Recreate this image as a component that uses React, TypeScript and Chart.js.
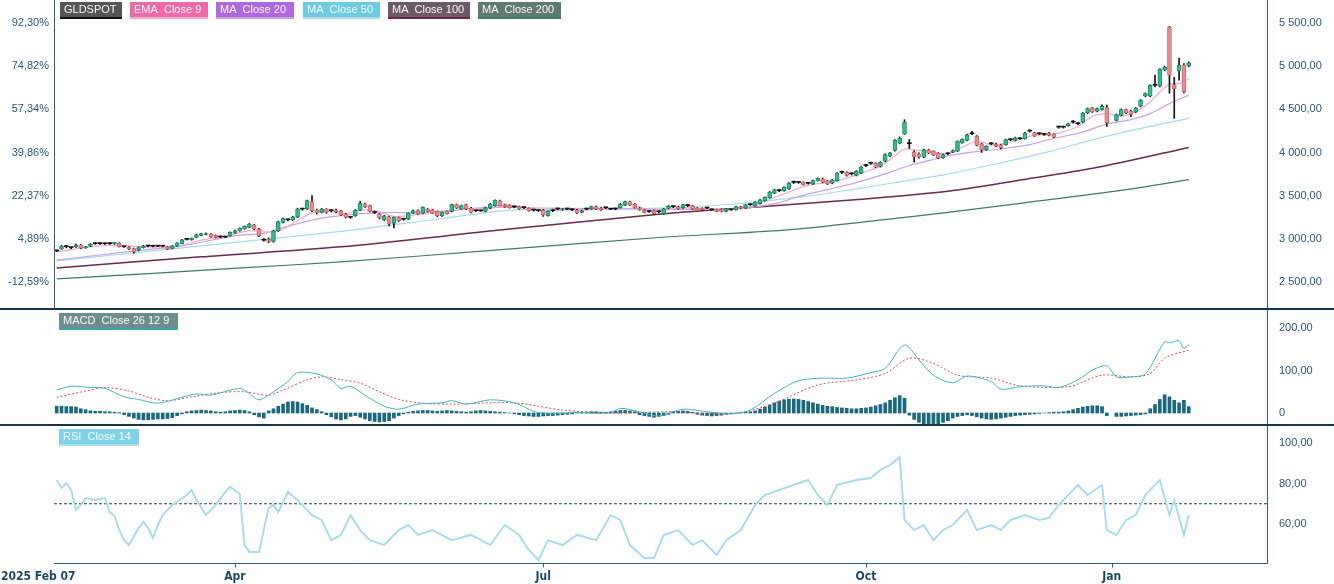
import React, { useEffect, useRef } from "react";
import { Chart, registerables } from "chart.js";
Chart.register(...registerables);

// ---------------- DATA ----------------
const DATE_TICK_INDEX = [0, 37, 101, 168, 219];
const DATE_TICK_LABELS = ["2025 Feb 07", "Apr", "Jul", "Oct", "Jan"];

const PRICE_TICKS = [5500, 5000, 4500, 4000, 3500, 3000, 2500];
const PRICE_TICK_LABELS = ["5 500,00", "5 000,00", "4 500,00", "4 000,00", "3 500,00", "3 000,00", "2 500,00"];
const PCT_TICK_LABELS = ["92,30%", "74,82%", "57,34%", "39,86%", "22,37%", "4,89%", "-12,59%"];
const MACD_TICKS = [200, 100, 0];
const MACD_TICK_LABELS = ["200,00", "100,00", "0"];
const RSI_TICKS = [100, 80, 60];
const RSI_TICK_LABELS = ["100,00", "80,00", "60,00"];
const RSI_LEVEL = 70;

const OPEN = [
  2862,2884,2910,2898,2905,2930,2898,2914,2944,2946,2942,2944,2940,2948,2908,2905,2888,2868,2898,2918,
  2916,2915,2917,2910,2888,2918,2945,2994,2988,3015,3040,3050,3055,3040,3023,3020,3035,3068,3093,3115,
  3132,3160,3115,2985,2995,2970,3093,3190,3220,3218,3250,3345,3345,3432,3335,3305,3345,3325,3337,3325,
  3290,3248,
  3267,3333,3405,3384,3305,3290,3220,3256,3178,3245,3228,3228,3296,3326,3295,3345,3337,3318,3268,3318,
  3318,3395,3345,3395,3357,3325,3326,3318,3357,3384,3440,3395,3390,3372,3372,3360,3352,3332,3328,3334,
  3267,3325,3346,3336,3345,3338,3337,3306,3344,3345,3372,3360,3360,3346,3345,3362,3392,3430,3403,3360,
  3337,3318,3326,
  3313,3290,3352,3373,3372,3360,3385,3384,3357,3355,3357,3336,3341,3341,3318,3337,3337,3372,3357,3395,
  3384,3407,3442,3475,3528,3558,3558,3578,3655,3653,3655,3643,3635,3674,3693,3674,3643,3674,3770,3771,
  3752,3733,3760,3848,3875,3875,3837,3899,3957,4023,4108,
  4218,4105,4005,3985,3945,4030,4012,3992,3938,3985,4004,4015,4113,4140,4218,4186,4101,4031,4100,4101,
  4089,4090,4147,4140,4160,4159,4248,4229,4218,4210,4225,
  4209,4295,4293,4310,4352,4334,4352,4457,4515,4477,4496,4520,null,4372,4430,4497,4480,4469,4535,4651,
  4651,4779,4767,4953,5450,4787,4942,5012,5003,
];
const HIGH = [
  2870,2925,2922,2904,2938,2935,2912,2946,2955,2956,2952,2955,2960,2955,2915,2910,2893,2905,2925,2926,
  2924,2925,2924,2915,2922,2955,2995,3004,3010,3055,3065,3068,3062,3045,3032,3030,3080,3100,3125,3150,
  3178,3168,3120,3002,3010,3100,3205,3240,3232,3262,3355,3355,3448,3500,3345,3352,3350,3340,3345,3330,
  3295,3258,
  3340,3435,3415,3390,3320,3295,3272,3262,3252,3252,3238,3300,3332,3335,3370,3352,3342,3325,3312,3325,
  3402,3402,3390,3400,3365,3335,3334,3368,3410,3452,3448,3402,3396,3380,3378,3370,3358,3345,3340,3340,
  3325,3340,3358,3352,3355,3348,3342,3332,3356,3378,3380,3366,3368,3352,3355,3410,3438,3438,3410,3366,
  3342,3328,3333,
  3325,3352,3386,3385,3380,3400,3400,3390,3362,3360,3365,3345,3346,3348,3352,3345,3380,3378,3400,3406,
  3430,3458,3486,3548,3575,3572,3603,3650,3670,3665,3660,3652,3680,3706,3705,3680,3690,3766,3785,3778,
  3765,3790,3836,3862,3888,3882,3893,3985,4002,4148,4180,
  4380,4150,4020,3995,4040,4038,4020,3998,3983,3996,4030,4135,4158,4212,4245,4195,4108,4078,4115,4108,
  4095,4155,4160,4178,4170,4232,4262,4236,4228,4220,4232,
  4215,4305,4306,4340,4368,4345,4463,4515,4522,4515,4552,4550,null,4445,4505,4504,4490,4522,4612,4690,
  4785,4895,4970,5000,5460,4870,5093,5030,5050,
];
const LOW = [
  2852,2878,2896,2885,2900,2885,2890,2910,2935,2936,2934,2935,2935,2905,2900,2875,2832,2860,2893,2908,
  2905,2908,2906,2875,2883,2912,2940,2985,2985,3012,3035,3045,3020,3010,3012,3012,3030,3063,3088,3110,
  3128,3105,3025,2972,2956,2960,3085,3185,3208,3212,3245,3330,3340,3315,3285,3300,3295,3312,3300,3270,
  3240,3235,
  3260,3328,3365,3310,3292,3230,3210,3150,3125,3200,3215,3222,3290,3282,3290,3312,3290,3255,3260,3285,
  3312,3350,3340,3338,3300,3315,3318,3312,3350,3378,3380,3365,3355,3360,3340,3348,3320,3320,3316,3260,
  3262,3315,3335,3330,3336,3326,3290,3300,3334,3340,3340,3330,3350,3338,3336,3356,3388,3386,3356,3330,
  3300,3305,3280,
  3300,3282,3347,3360,3340,3352,3372,3340,3320,3330,3348,3328,3312,3310,3312,3328,3332,3346,3350,3386,
  3378,3400,3436,3470,3522,3545,3552,3572,3640,3642,3622,3632,3630,3668,3648,3628,3636,3668,3755,3726,
  3740,3728,3755,3835,3862,3824,3830,3892,3950,4015,4100,
  4210,4047,3887,3935,3938,3985,3965,3928,3930,3975,3998,4008,4106,4134,4205,4075,4000,4025,4088,4066,
  4040,4084,4135,4134,4150,4153,4236,4184,4205,4198,4192,
  4172,4280,4282,4305,4340,4322,4345,4450,4462,4470,4490,4302,null,4365,4424,4450,4415,4462,4528,4645,
  4645,4760,4760,4945,4686,4395,4837,4690,4990,
];
const CLOSE = [
  2860,2915,2908,2900,2930,2892,2908,2940,2945,2944,2943,2946,2958,2910,2909,2880,2852,2898,2918,2916,
  2914,2918,2915,2880,2918,2950,2988,2996,3008,3047,3062,3060,3025,3015,3022,3023,3075,3093,3120,3145,
  3170,3115,3035,2984,2970,3093,3198,3235,3222,3256,3345,3344,3442,3325,3300,3345,3305,3327,3310,3280,
  3250,3250,
  3333,3410,3372,3318,3306,3242,3267,3170,3248,3209,3227,3295,3326,3288,3364,3318,3295,3267,3306,3290,
  3395,3357,3384,3345,3306,3327,3324,3360,3403,3450,3384,3372,3362,3370,3345,3362,3326,3334,3326,3275,
  3318,3327,3345,3346,3347,3336,3296,3326,3346,3372,3345,3337,3361,3344,3347,3403,3430,3392,3362,3337,
  3306,3316,3288,
  3315,3346,3380,3372,3345,3395,3384,3346,3326,3337,3356,3337,3318,3318,3346,3336,3372,3352,3395,3397,
  3422,3452,3480,3540,3567,3560,3597,3643,3654,3655,3628,3642,3674,3700,3655,3635,3682,3760,3771,3733,
  3753,3783,3830,3849,3876,3830,3887,3977,3996,4140,4166,
  4352,4102,3945,3945,4030,3992,3973,3934,3977,3986,4023,4128,4152,4206,4217,4082,4031,4070,4101,4073,
  4055,4148,4148,4171,4159,4225,4249,4190,4217,4209,4198,
  4178,4294,4295,4334,4353,4333,4457,4508,4469,4508,4535,4341,null,4438,4497,4457,4442,4515,4605,4683,
  4779,4780,4962,4985,4895,4740,5012,4700,5038,
];

const EMA9_IDX = [0,5,10,15,20,25,30,35,40,43,46,50,53,56,60,63,66,70,75,80,85,90,93,97,101,105,110,115,119,124,128,132,137,141,144,148,151,155,158,161,165,168,171,174,176,178,181,185,188,191,194,197,200,203,206,209,212,215,218,221,224,227,229,231,233,235];
const EMA9 = [2848,2893,2922,2918,2905,2915,2985,3030,3095,3080,3090,3210,3300,3318,3295,3330,3330,3260,3280,3305,3345,3350,3390,3365,3325,3335,3335,3350,3395,3320,3345,3360,3335,3345,3372,3460,3520,3605,3640,3660,3720,3780,3840,3960,4040,4030,4010,3985,4060,4130,4090,4110,4150,4200,4205,4240,4300,4420,4450,4420,4470,4585,4700,4790,4800,4850];

const MA20_IDX = [0,16,26,37,43,47,54,61,66,70,75,80,90,100,111,121,130,140,144,150,154,160,165,172,177,181,185,190,196,202,206,213,218,223,227,231,235];
const MA20 = [2752,2860,2919,3035,3062,3131,3229,3280,3300,3305,3300,3320,3365,3357,3350,3345,3340,3345,3360,3420,3490,3570,3636,3752,3849,3905,3960,4005,4040,4090,4150,4236,4330,4380,4450,4566,4663];

const MA50_IDX = [0,30,59,80,95,110,125,140,155,165,175,185,196,206,217,226,235];
const MA50 = [2744,2919,3087,3235,3334,3345,3355,3400,3488,3570,3660,3750,3880,4010,4174,4290,4395];

const MA100_IDX = [0,30,59,92,125,144,165,185,203,217,235];
const MA100 = [2663,2791,2907,3101,3285,3364,3450,3550,3706,3837,4058];

const MA200_IDX = [0,20,40,59,89,125,151,170,185,200,222,235];
const MA200 = [2535,2600,2668,2733,2860,3015,3101,3210,3306,3410,3570,3686];

const MACD_IDX = [0,3,7,10,14,17,21,26,29,32,38,40,42,45,48,50,54,57,59,61,64,68,71,75,80,82,85,90,95,100,108,115,117,121,125,130,135,140,144,149,154,159,164,169,172,176,179,182,186,189,194,196,200,205,208,212,215,218,220,223,226,230,231,233,234,235];
const MACD = [54,63,60,58,38,32,23,37,45,42,58,46,31,50,74,95,92,78,58,63,42,16,9,21,24,29,21,31,24,1,1,0,11,3,-7,9,3,-2,7,46,76,82,82,95,105,160,125,89,71,87,74,56,62,64,60,78,101,111,85,85,92,168,165,170,152,162];

const SIGNAL_IDX = [0,7,10,15,19,23,28,34,39,44,47,52,55,59,63,67,71,76,82,95,105,115,128,140,148,158,166,172,177,182,187,194,200,210,217,223,227,230,235];
const SIGNAL = [37,54,60,52,37,29,38,48,50,42,54,78,85,79,70,50,32,23,21,24,7,0,3,-2,19,66,78,93,129,117,89,82,64,62,89,85,93,129,148];

const HIST = [
  16,16,15,15,14,10,8,5,4,4,3,3,2,1,
  -4,-8,-12,-15,-16,-16,-15,-14,-14,-13,-11,-6,-2,
  3,5,6,7,6,5,3,2,3,5,6,7,6,3,
  -4,-9,-12,
  5,10,16,21,26,27,26,22,18,12,8,3,
  -4,-9,-14,-16,-14,-8,-6,-10,-14,-18,-20,-21,-20,-18,-12,-6,-2,
  2,4,5,6,6,5,4,5,6,5,4,3,2,
  3,5,6,5,4,3,2,1,0,
  -2,-4,-6,-7,-8,-8,-7,-6,-6,-5,-4,-3,-2,
  1,2,2,3,3,2,2,3,5,6,6,5,3,
  -4,-6,-8,-10,-8,-6,-3,
  3,4,5,4,2,
  -3,-5,-6,-7,-6,-5,-3,
  -1,0,1,2,3,
  5,9,14,19,24,28,31,33,33,32,30,27,24,21,18,16,
  15,13,12,11,10,10,11,12,14,17,20,
  24,30,36,41,35,
  -5,-15,-22,-27,-28,-27,-25,-22,-18,-12,
  -8,-6,-4,-6,-9,-12,-14,-15,-14,-12,-10,-8,-6,-5,-4,-3,-2,
  -1,0,1,2,2,3,
  5,8,11,14,16,17,17,15,
  -6,null,-8,-8,-7,-6,-5,-4,-2,
  10,20,32,43,38,30,24,30,15,
];

const RSI_IDX = [0,1,2,3,4,5,6,8,10,11,12,13,14,15,17,18,19,20,21,22,24,27,28,29,31,33,35,36,38,39,40,42,43,44,45,46,48,50,53,55,57,59,61,63,65,68,71,73,75,78,82,86,90,93,96,98,100,102,105,108,112,115,117,119,122,124,126,129,132,134,137,139,142,145,147,150,153,156,158,160,162,166,169,171,173,175,176,178,180,182,184,186,189,191,194,196,198,201,204,206,208,210,212,214,217,218,220,222,224,226,228,229,231,232,234,235];
const RSI = [81.7,77.8,80.2,76.8,66.9,69.4,72.8,71.9,72.8,65.9,63.9,57,52,49.6,58,61,58,53,59.5,64.4,69.4,74.3,76.8,71.9,64.4,69.4,75.8,78.3,74.8,49.6,46.2,46.2,57,67.9,69.4,65.9,75.8,71.9,64.4,62,52,54.6,64.4,57,52,49.6,57,59.5,54.6,57,52,54.6,49.6,59.5,54.6,47.2,42.2,52,49.6,54.6,52,64.4,62,49.6,43.2,43.2,54.6,57,49.6,52,44.7,52,57,69.4,74.3,76.8,79.3,81.7,74.3,69.4,79.3,81.7,82.7,86.7,89.1,93.1,62,57,59.5,52,57,59.5,66.9,57,59.5,57,62,64.4,62,63,69.4,74.3,79.3,74.3,79.3,57,54.6,62,64.4,74.3,79.3,81.7,64.4,71.9,54.6,64.4];

// ---------------- STYLE ----------------
const X_MIN = -0.56;
const X_MAX = 251.25;
const PAD_L = 54;
const PAD_R = 67;
const AXIS_COLOR = "#2f6178";
const LABEL_COLOR = "#2b5874";
const SEP_COLOR = "#173747";
const AXIS_FONT = "11px 'Liberation Sans', Arial, sans-serif";
const LEGEND_FONT = "11px 'Liberation Sans', Arial, sans-serif";
const DATE_FONT = "bold 12px 'Liberation Sans Narrow', 'DejaVu Sans Condensed', sans-serif";
const UP_FILL = "#35bb8d";
const UP_LINE = "#1f8c68";
const DN_FILL = "#ea8e8f";
const DN_LINE = "#c96a6c";
const WICK = "#151515";

type Legend = { text: string; x: number; y: number; w: number; bg: string; line: string };

const pairs = (idx: number[], vals: (number | null)[]) => idx.map((k, i) => ({ x: k, y: vals[i] }));

function decor(cfg: {
  rightTicks: number[];
  rightLabels: string[];
  leftLabels?: string[];
  leftAxis?: boolean;
  bottomAxis?: boolean;
  legends: Legend[];
}) {
  return {
    id: "decor",
    afterDraw(chart: any) {
      const { ctx, chartArea: a, scales } = chart;
      const ys = scales.y;
      const xs = scales.x;
      ctx.save();
      ctx.strokeStyle = AXIS_COLOR;
      ctx.lineWidth = 1;
      const rx = Math.round(a.right) + 0.5;
      ctx.beginPath();
      ctx.moveTo(rx, 0);
      ctx.lineTo(rx, a.bottom + (cfg.bottomAxis ? 0.5 : 0));
      ctx.stroke();
      if (cfg.leftAxis) {
        const lx = Math.round(a.left) + 0.5;
        ctx.beginPath();
        ctx.moveTo(lx, 0);
        ctx.lineTo(lx, a.bottom);
        ctx.stroke();
      }
      ctx.font = AXIS_FONT;
      ctx.fillStyle = LABEL_COLOR;
      ctx.textBaseline = "middle";
      ctx.textAlign = "left";
      cfg.rightTicks.forEach((v, i) => {
        ctx.fillText(cfg.rightLabels[i], a.right + 12, ys.getPixelForValue(v));
      });
      if (cfg.leftLabels) {
        ctx.textAlign = "right";
        cfg.rightTicks.forEach((v, i) => {
          ctx.fillText(cfg.leftLabels![i], a.left - 5, ys.getPixelForValue(v));
        });
      }
      if (cfg.bottomAxis) {
        const by = Math.round(a.bottom) + 0.5;
        ctx.beginPath();
        ctx.moveTo(a.left, by);
        ctx.lineTo(a.right + 1, by);
        ctx.stroke();
        ctx.font = DATE_FONT;
        ctx.fillStyle = "#1d4a62";
        ctx.textBaseline = "middle";
        DATE_TICK_INDEX.forEach((k, i) => {
          const px = xs.getPixelForValue(k);
          if (i > 0) {
            ctx.beginPath();
            ctx.moveTo(Math.round(px) + 0.5, by);
            ctx.lineTo(Math.round(px) + 0.5, by + 4);
            ctx.stroke();
            ctx.textAlign = "center";
            ctx.fillText(DATE_TICK_LABELS[i], px, a.bottom + 14);
          } else {
            ctx.textAlign = "left";
            ctx.fillText(DATE_TICK_LABELS[i], 1, a.bottom + 14);
          }
        });
      }
      cfg.legends.forEach((l) => {
        ctx.fillStyle = l.bg;
        ctx.fillRect(l.x, l.y, l.w, 15);
        ctx.fillStyle = l.line;
        ctx.fillRect(l.x, l.y + 15, l.w, 2);
        ctx.fillStyle = "#f8f8f8";
        ctx.font = LEGEND_FONT;
        ctx.textAlign = "left";
        ctx.textBaseline = "middle";
        ctx.fillText(l.text, l.x + 4, l.y + 8);
      });
      ctx.restore();
    },
  };
}

const xScale = {
  type: "linear",
  min: X_MIN,
  max: X_MAX,
  display: false,
  offset: false,
  grid: { display: false, offset: false },
};

const baseOptions = (ymin: number, ymax: number, padBottom: number) => ({
  responsive: false,
  maintainAspectRatio: false,
  animation: false,
  events: [],
  layout: { padding: { left: PAD_L, right: PAD_R, top: 0, bottom: padBottom } },
  plugins: { legend: { display: false }, tooltip: { enabled: false } },
  scales: {
    x: xScale,
    y: { type: "linear", min: ymin, max: ymax, display: false },
  },
});

const line = (data: any[], color: string, width: number, order: number, extra: any = {}) => ({
  type: "line",
  data,
  borderColor: color,
  backgroundColor: color,
  borderWidth: width,
  pointRadius: 0,
  tension: 0.3,
  order,
  ...extra,
});

function priceConfig(): any {
  const ids = CLOSE.map((_, i) => i).filter((i) => CLOSE[i] != null);
  const isDoji = (i: number) => Math.abs((CLOSE[i] as number) - (OPEN[i] as number)) <= 4;
  const body = ids.map((i) => ({ x: i, y: [OPEN[i], CLOSE[i]] }));
  const wick = ids.map((i) => ({ x: i, y: [LOW[i], HIGH[i]] }));
  const fill = ids.map((i) => (isDoji(i) ? WICK : (CLOSE[i] as number) > (OPEN[i] as number) ? UP_FILL : DN_FILL));
  const border = ids.map((i) => (isDoji(i) ? WICK : (CLOSE[i] as number) > (OPEN[i] as number) ? UP_LINE : DN_LINE));
  const bw = ids.map((i) => (isDoji(i) ? 0 : 1));
  return {
    type: "bar",
    data: {
      datasets: [
        line(pairs(MA200_IDX, MA200), "#3f7b66", 1.2, 9),
        line(pairs(MA100_IDX, MA100), "#6a2a4e", 1.5, 8),
        line(pairs(MA50_IDX, MA50), "#a6dbea", 1.2, 7),
        line(pairs(MA20_IDX, MA20), "#c8a0e0", 1.2, 6),
        line(pairs(EMA9_IDX, EMA9), "#f2a9d0", 1.2, 5),
        { type: "bar", data: wick, backgroundColor: WICK, borderWidth: 0, barThickness: 1, grouped: false, order: 2 },
        {
          type: "bar",
          data: body,
          backgroundColor: fill,
          borderColor: border,
          borderWidth: bw,
          borderSkipped: false,
          barThickness: 4,
          minBarLength: 1,
          grouped: false,
          order: 1,
        },
      ],
    },
    options: baseOptions(2187, 5766, 0),
    plugins: [
      decor({
        rightTicks: PRICE_TICKS,
        rightLabels: PRICE_TICK_LABELS,
        leftLabels: PCT_TICK_LABELS,
        leftAxis: true,
        legends: [
          { text: "GLDSPOT", x: 60, y: 2, w: 62, bg: "#555555", line: "#111111" },
          { text: "EMA  Close 9", x: 130, y: 2, w: 78, bg: "#ef6aa8", line: "#f5a6cc" },
          { text: "MA  Close 20", x: 216, y: 2, w: 78, bg: "#b068df", line: "#c9a0e8" },
          { text: "MA  Close 50", x: 303, y: 2, w: 77, bg: "#6ccbe3", line: "#a6dcec" },
          { text: "MA  Close 100", x: 388, y: 2, w: 82, bg: "#6d5a66", line: "#6a2a4e" },
          { text: "MA  Close 200", x: 478, y: 2, w: 83, bg: "#5f7b6d", line: "#3f7b66" },
        ],
      }),
    ],
  };
}

function macdConfig(): any {
  const hist = HIST.map((v, i) => ({ x: i, y: v })).filter((p) => p.y != null);
  return {
    type: "bar",
    data: {
      datasets: [
        line(pairs(SIGNAL_IDX, SIGNAL), "#d4504e", 1, 2, { borderDash: [2, 2] }),
        line(pairs(MACD_IDX, MACD), "#3fb7c1", 1, 1),
        { type: "bar", data: hist, backgroundColor: "#1a697e", borderWidth: 0, barThickness: 3, grouped: false, order: 3 },
      ],
    },
    options: baseOptions(-28.2, 242.4, 0),
    plugins: [
      decor({
        rightTicks: MACD_TICKS,
        rightLabels: MACD_TICK_LABELS,
        legends: [{ text: "MACD  Close 26 12 9", x: 59, y: 3, w: 119, bg: "#6e8e8d", line: "#34aab3" }],
      }),
    ],
  };
}

function rsiConfig(): any {
  return {
    type: "line",
    data: {
      datasets: [
        line([{ x: X_MIN, y: RSI_LEVEL }, { x: X_MAX, y: RSI_LEVEL }], "#1f3f4e", 1, 2, { borderDash: [3, 2], tension: 0 }),
        line(pairs(RSI_IDX, RSI), "#a8dcec", 2, 1, { tension: 0 }),
      ],
    },
    options: baseOptions(40.74, 108.4, 21),
    plugins: [
      decor({
        rightTicks: RSI_TICKS,
        rightLabels: RSI_TICK_LABELS,
        bottomAxis: true,
        legends: [{ text: "RSI  Close 14", x: 59, y: 3, w: 80, bg: "#7fd2e9", line: "#a8dfee" }],
      }),
    ],
  };
}

export default function App() {
  const priceRef = useRef<HTMLCanvasElement>(null);
  const macdRef = useRef<HTMLCanvasElement>(null);
  const rsiRef = useRef<HTMLCanvasElement>(null);

  useEffect(() => {
    const charts = [
      new Chart(priceRef.current as HTMLCanvasElement, priceConfig()),
      new Chart(macdRef.current as HTMLCanvasElement, macdConfig()),
      new Chart(rsiRef.current as HTMLCanvasElement, rsiConfig()),
    ];
    return () => charts.forEach((c) => c.destroy());
  }, []);

  return (
    <div style={{ position: "absolute", left: 0, top: 0, width: 1334, height: 584, background: "#ffffff", overflow: "hidden" }}>
      <canvas ref={priceRef} width={1334} height={309} style={{ position: "absolute", left: 0, top: 0 }} />
      <canvas ref={macdRef} width={1334} height={115} style={{ position: "absolute", left: 0, top: 310 }} />
      <canvas ref={rsiRef} width={1334} height={158} style={{ position: "absolute", left: 0, top: 426 }} />
      <div style={{ position: "absolute", left: 0, top: 308, width: 1334, height: 2, background: SEP_COLOR }} />
      <div style={{ position: "absolute", left: 0, top: 424, width: 1334, height: 2, background: SEP_COLOR }} />
    </div>
  );
}
